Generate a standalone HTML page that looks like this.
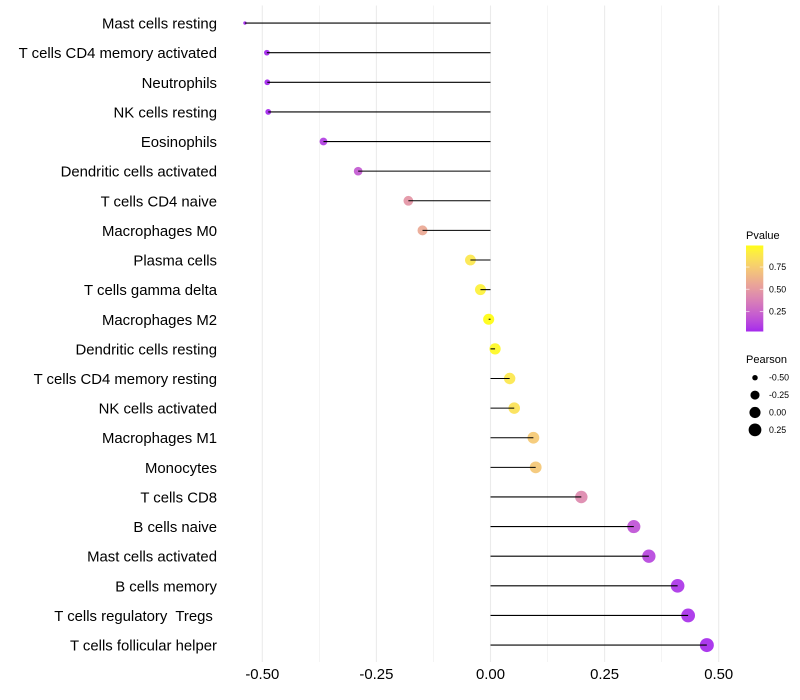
<!DOCTYPE html>
<html lang="en">
<head>
<meta charset="utf-8">
<title>Pearson lollipop chart</title>
<style>
html,body{margin:0;padding:0;background:#fff;}
svg{display:block;font-family:"Liberation Sans",Arial,sans-serif;}
text{white-space:pre;}
</style>
</head>
<body>
<svg id="chart" xmlns="http://www.w3.org/2000/svg" width="800" height="700" viewBox="0 0 800 700">
  <defs>
    <linearGradient id="pgrad" x1="0" y1="1" x2="0" y2="0"></linearGradient>
  </defs>
  <rect x="0" y="0" width="800" height="700" fill="#fff"/>
  <g id="grid"></g>
  <g id="points"></g>
  <g id="stems"></g>
  <g id="ylabels"></g>
  <g id="xlabels"></g>
  <g id="legend-p">
    <text x="746" y="239" font-size="11" fill="#000">Pvalue</text>
    <rect x="746" y="245.5" width="17.3" height="86" fill="url(#pgrad)"/>
  </g>
  <g id="legend-s">
    <text x="746" y="363" font-size="11" fill="#000">Pearson</text>
  </g>
</svg>
<script>
const categories = ["Mast cells resting","T cells CD4 memory activated","Neutrophils","NK cells resting","Eosinophils","Dendritic cells activated","T cells CD4 naive","Macrophages M0","Plasma cells","T cells gamma delta","Macrophages M2","Dendritic cells resting","T cells CD4 memory resting","NK cells activated","Macrophages M1","Monocytes","T cells CD8","B cells naive","Mast cells activated","B cells memory","T cells regulatory  Tregs ","T cells follicular helper"];
const pearson = [-0.538,-0.490,-0.489,-0.487,-0.366,-0.290,-0.180,-0.149,-0.044,-0.022,-0.004,0.010,0.042,0.052,0.094,0.099,0.199,0.314,0.347,0.410,0.433,0.474];
const pvalue = [0.01,0.02,0.02,0.02,0.09,0.2,0.47,0.57,0.88,0.93,0.99,0.97,0.88,0.85,0.73,0.72,0.42,0.17,0.12,0.06,0.045,0.027];
const xTicks = [-0.5,-0.25,0,0.25,0.5];
const xMinorTicks = [-0.375,-0.125,0.125,0.375];
const colorLegendTicks = [0.25,0.5,0.75];
const sizeLegendTicks = [-0.5,-0.25,0,0.25];

const NS = "http://www.w3.org/2000/svg";
function make(tag, parent, attrs) {
  const el = document.createElementNS(NS, tag);
  for (const k in attrs) el.setAttribute(k, attrs[k]);
  parent.appendChild(el);
  return el;
}
function xScale(v) { return 490.5 + 456.4 * v; }
function yScale(i) { return 23.05 + 29.62 * i; }
function pScale(p) { return 333.8 - 89 * p; }
const minR = Math.min(...pearson), maxR = Math.max(...pearson);
function radius(v) {
  const t = Math.max(0, (v - minR) / (maxR - minR));
  return 1.7 + Math.sqrt(t) * 5.3;
}
function toLab(rgb) {
  const l = rgb.map(c => { c /= 255; return c > 0.04045 ? Math.pow((c + 0.055) / 1.055, 2.4) : c / 12.92; });
  const X = (0.4124 * l[0] + 0.3576 * l[1] + 0.1805 * l[2]) / 0.95047;
  const Y = 0.2126 * l[0] + 0.7152 * l[1] + 0.0722 * l[2];
  const Z = (0.0193 * l[0] + 0.1192 * l[1] + 0.9505 * l[2]) / 1.08883;
  const f = t => t > 0.008856 ? Math.cbrt(t) : 7.787 * t + 16 / 116;
  return [116 * f(Y) - 16, 500 * (f(X) - f(Y)), 200 * (f(Y) - f(Z))];
}
function fromLab(lab) {
  const fy = (lab[0] + 16) / 116, fx = fy + lab[1] / 500, fz = fy - lab[2] / 200;
  const g = t => t * t * t > 0.008856 ? t * t * t : (t - 16 / 116) / 7.787;
  const X = g(fx) * 0.95047, Y = g(fy), Z = g(fz) * 1.08883;
  const lin = [3.2406 * X - 1.5372 * Y - 0.4986 * Z, -0.9689 * X + 1.8758 * Y + 0.0415 * Z, 0.0557 * X - 0.204 * Y + 1.057 * Z];
  return lin.map(c => {
    c = Math.max(0, Math.min(1, c));
    c = c > 0.0031308 ? 1.055 * Math.pow(c, 1 / 2.4) - 0.055 : 12.92 * c;
    return Math.round(c * 255);
  });
}
const labLow = toLab([160, 32, 240]), labHigh = toLab([255, 255, 0]);
function colorScale(p) {
  const lab = labLow.map((c, i) => c + (labHigh[i] - c) * p);
  return "rgb(" + fromLab(lab).join(",") + ")";
}
const gridG = document.getElementById("grid");
xMinorTicks.forEach(v => {
  const ln = make("line", gridG, { x1: xScale(v), x2: xScale(v), y1: 5.5, y2: 662, stroke: "#ebebeb", "stroke-width": 0.53 });
  
  
});
xTicks.forEach(v => {
  const ln = make("line", gridG, { x1: xScale(v), x2: xScale(v), y1: 5.5, y2: 662, stroke: "#ebebeb", "stroke-width": 1.07 });
  
  
});
const pointsG = document.getElementById("points");
const stemsG = document.getElementById("stems");
const yG = document.getElementById("ylabels");
categories.forEach((name, i) => {
  const c = make("circle", pointsG, { cx: xScale(pearson[i]), cy: yScale(i), r: radius(pearson[i]), fill: colorScale(pvalue[i]), "fill-opacity": 0.93 });
  
  
  const s = make("line", stemsG, { x1: xScale(0), x2: xScale(pearson[i]), y1: yScale(i), y2: yScale(i), stroke: "#000", "stroke-width": 1.07 });
  
  
  const t = make("text", yG, { x: 217, y: yScale(i) + 5.5, "text-anchor": "end", "font-size": 14.9, fill: "#000" });
  
  
  t.textContent = name;
});
const xG = document.getElementById("xlabels");
xTicks.forEach(v => {
  const t = make("text", xG, { x: xScale(v), y: 679, "text-anchor": "middle", "font-size": 14.9, fill: "#000" });
  
  
  t.textContent = v.toFixed(2);
});
const grad = document.getElementById("pgrad");
for (let k = 0; k <= 20; k++) {
  const stop = make("stop", grad, { offset: (k / 20), "stop-color": colorScale(0.022 + (0.988 - 0.022) * k / 20) });
  
  
}
const lp = document.getElementById("legend-p");
colorLegendTicks.forEach(p => {
  const y = pScale(p);
  const a = make("line", lp, { x1: 746, x2: 749.5, y1: y, y2: y, stroke: "#fff", "stroke-width": 1, "stroke-opacity": 0.6 });
  
  
  const b = make("line", lp, { x1: 759.8, x2: 763.3, y1: y, y2: y, stroke: "#fff", "stroke-width": 1, "stroke-opacity": 0.6 });
  
  
  const t = make("text", lp, { x: 769, y: y + 3, "font-size": 8.8, fill: "#000" });
  
  
  t.textContent = p.toFixed(2);
});
const ls = document.getElementById("legend-s");
sizeLegendTicks.forEach((v, i) => {
  const y = 377.7 + 17.4 * i;
  const c = make("circle", ls, { cx: 755, cy: y, r: radius(v), fill: "#000" });
  
  
  const t = make("text", ls, { x: 769, y: y + 3, "font-size": 8.8, fill: "#000" });
  
  
  t.textContent = v.toFixed(2);
});
</script>
</body>
</html>
